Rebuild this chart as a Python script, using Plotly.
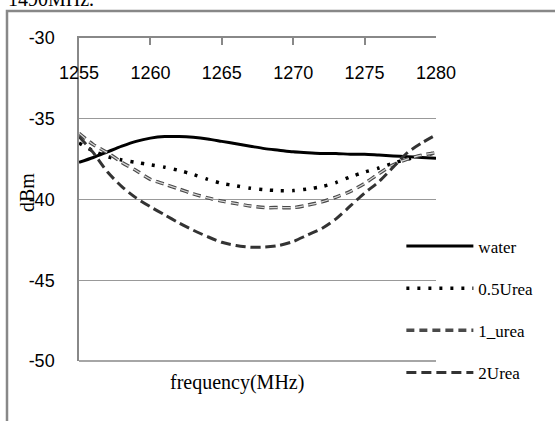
import plotly.graph_objects as go

freq = [1255, 1256, 1257, 1258, 1259, 1260, 1261, 1262, 1263, 1264, 1265, 1266, 1267,
        1268, 1269, 1270, 1271, 1272, 1273, 1274, 1275, 1276, 1277, 1278, 1279, 1280]

water = [-37.7, -37.4, -37.05, -36.7, -36.4, -36.2, -36.1, -36.1, -36.15, -36.25, -36.4,
         -36.55, -36.7, -36.85, -36.95, -37.05, -37.1, -37.15, -37.15, -37.2, -37.2,
         -37.25, -37.3, -37.35, -37.4, -37.45]

urea05 = [-36.5, -37.0, -37.35, -37.55, -37.7, -37.85, -38.0, -38.2, -38.45, -38.75, -39.0,
          -39.15, -39.3, -39.4, -39.45, -39.45, -39.35, -39.2, -38.95, -38.6, -38.3,
          -38.05, -37.75, -37.5, -37.3, -37.1]

urea1 = [-35.9, -36.6, -37.1, -37.7, -38.2, -38.75, -39.05, -39.35, -39.65, -39.9, -40.1,
         -40.25, -40.4, -40.5, -40.5, -40.5, -40.35, -40.15, -39.85, -39.5, -39.0,
         -38.4, -37.85, -37.5, -37.25, -37.1]

urea2 = [-36.1, -37.1, -38.3, -39.2, -39.9, -40.45, -40.95, -41.45, -41.9, -42.3, -42.65,
         -42.85, -42.95, -42.95, -42.85, -42.6, -42.2, -41.8, -41.2, -40.4, -39.6,
         -38.9, -38.0, -37.1, -36.5, -36.0]

series_names = ["water", "0.5Urea", "1_urea", "2Urea"]
x_ticks = [1255, 1260, 1265, 1270, 1275, 1280]
y_ticks = [-50, -45, -40, -35, -30]

W, H = 555, 421
L, R, T, B = 79, 119, 38, 60

pw = W - L - R
ph = H - T - B
def px(x):
    return (x - L) / pw
def py(y):
    return 1 - (y - T) / ph

fig = go.Figure()
styles = [
    dict(color="#000000", width=3, dash="solid"),
    dict(color="#000000", width=3.5, dash="3px,8px"),
    dict(color="#4a4a4a", width=3.5, dash="8px,5px"),
    dict(color="#333333", width=3, dash="10px,5px"),
]
all_series = [water, urea05, urea1, urea2]
for i, (name, ys) in enumerate(zip(series_names, all_series)):
    fig.add_trace(go.Scatter(
        x=freq, y=ys, mode="lines", name=name,
        line=dict(shape="spline", smoothing=0.8, **styles[i]),
        legendgroup=name,
    ))
    if name == "1_urea":
        # light core gives the outlined-dash look of this series
        fig.add_trace(go.Scatter(
            x=freq, y=ys, mode="lines", showlegend=False, hoverinfo="skip",
            legendgroup=name,
            line=dict(shape="spline", smoothing=0.8, color="#d8d8d8", width=1.2,
                      dash="8px,5px"),
        ))

# invisible trace carrying the label axis (tick labels sit below the top axis line)
fig.add_trace(go.Scatter(x=freq, y=water, xaxis="x2", mode="lines",
                         line=dict(color="rgba(0,0,0,0)"), showlegend=False,
                         hoverinfo="skip"))

fig.update_layout(
    width=W, height=H,
    margin=dict(l=L, r=R, t=T, b=B, pad=0),
    paper_bgcolor="white", plot_bgcolor="white",
    showlegend=True,
    legend=dict(
        x=0.903, y=0.41, xanchor="left", yanchor="top",
        font=dict(family="Liberation Serif", size=17, color="#000"),
        bgcolor="rgba(0,0,0,0)", tracegroupgap=17, itemwidth=67,
    ),
    font=dict(family="Liberation Sans", size=18, color="#000"),
    xaxis=dict(
        range=[1255, 1280], side="top", tickvals=x_ticks,
        ticks="inside", ticklen=7, tickcolor="#888", tickwidth=1.5,
        showticklabels=False,
        showline=True, linecolor="#888", linewidth=1.5,
        showgrid=False, zeroline=False,
    ),
    xaxis2=dict(
        range=[1255, 1280], overlaying="x", anchor="free", position=py(60),
        side="bottom", tickvals=x_ticks, ticktext=[str(v) for v in x_ticks],
        ticks="", showline=False, showgrid=False, zeroline=False,
        tickfont=dict(family="Liberation Sans", size=18, color="#000"),
    ),
    yaxis=dict(
        range=[-50, -30], tickvals=y_ticks, ticktext=[str(v) for v in y_ticks],
        ticks="", ticklabelstandoff=19,
        showline=True, linecolor="#888", linewidth=1.5,
        showgrid=True, gridcolor="#999", gridwidth=1,
        zeroline=False,
        tickfont=dict(family="Liberation Sans", size=18, color="#000"),
    ),
)

# outer frame (chart area border of the source figure)
fig.add_shape(type="rect", xref="paper", yref="paper",
              x0=px(7), y0=py(440), x1=px(570), y1=py(11),
              line=dict(color="#888", width=2.5), fillcolor="rgba(0,0,0,0)", layer="below")
# bottom axis line at -50
fig.add_shape(type="line", xref="paper", yref="paper",
              x0=0, x1=1, y0=0, y1=0, line=dict(color="#888", width=1.5))

fig.add_annotation(text="dBm", xref="paper", yref="paper", x=px(27), y=py(193),
                   xanchor="center", yanchor="middle",
                   textangle=-90, showarrow=False,
                   font=dict(family="Liberation Serif", size=20, color="#000"))
fig.add_annotation(text="frequency(MHz)", xref="paper", yref="paper", x=px(237), y=py(382),
                   xanchor="center", yanchor="middle", showarrow=False,
                   font=dict(family="Liberation Serif", size=20, color="#000"))
fig.add_annotation(text="1490MHz.", xref="paper", yref="paper", x=px(6), y=py(12),
                   xanchor="left", yanchor="bottom", showarrow=False,
                   font=dict(family="Liberation Serif", size=20, color="#000"))

fig.write_html("out.html")
